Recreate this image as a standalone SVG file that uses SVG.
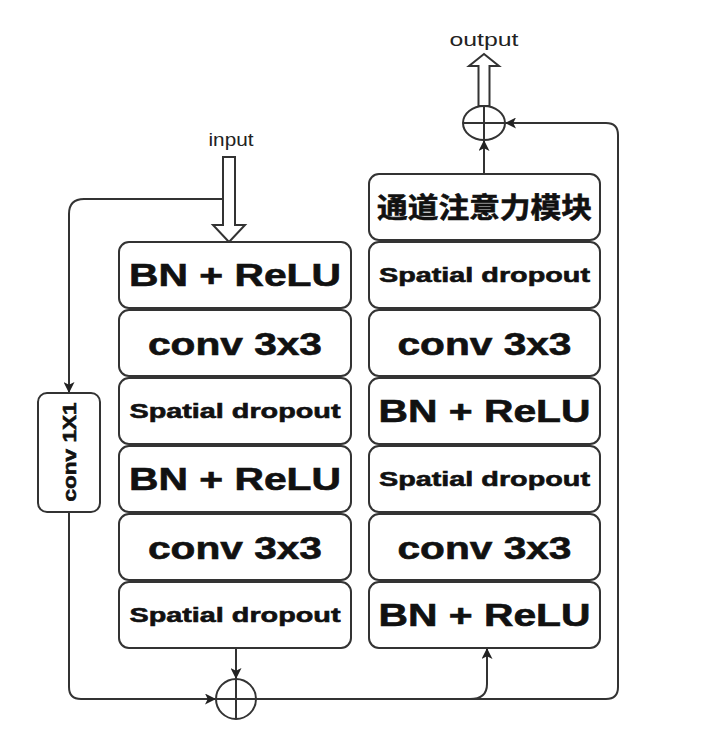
<svg xmlns="http://www.w3.org/2000/svg" width="714" height="739" viewBox="0 0 714 739">
<defs>
<marker id="ah" viewBox="0 0 10 10" refX="10" refY="5" markerWidth="11" markerHeight="11" markerUnits="userSpaceOnUse" orient="auto">
<path d="M0,0 L10,5 L0,10 L2.5,5 Z" fill="#222"/>
</marker>
</defs>
<style>
.box{fill:#fff;stroke:#333;stroke-width:2}
.ln{fill:none;stroke:#333;stroke-width:2}
.t{font-family:"Liberation Sans",Arial,sans-serif;font-weight:bold;fill:#111;stroke:#111;stroke-width:0.6;text-anchor:middle}
.big{font-size:31px}
.sd{font-size:21px}
.cjk{font-family:"Liberation Sans","Noto Sans CJK SC",sans-serif;font-size:28px}
.lab{font-family:"Liberation Sans",Arial,sans-serif;font-size:19px;fill:#222;text-anchor:middle}
</style>
<rect width="714" height="739" fill="#fff"/>

<g id="connectors">
<path class="ln" d="M223 199 H84 Q69 199 69 214 V393" marker-end="url(#ah)"/>
<path class="ln" d="M69 512 V687 Q69 699 81 699 H216" marker-end="url(#ah)"/>
<path class="ln" d="M236 648 V679" marker-end="url(#ah)"/>
<path class="ln" d="M256 699 H606 Q618 699 618 687 V135 Q618 123 606 123 H505" marker-end="url(#ah)"/>
<path class="ln" d="M470 699 Q487 699 487 684 V648" marker-end="url(#ah)"/>
<path class="ln" d="M484 174 V140" marker-end="url(#ah)"/>
</g>

<g id="input">
<text class="lab" x="231" y="146" textLength="45" lengthAdjust="spacingAndGlyphs">input</text>
<polygon class="box" points="223,157 235,157 235,225 245,225 229,242 213,225 223,225"/>
</g>

<g id="output">
<text class="lab" x="484" y="46" textLength="69" lengthAdjust="spacingAndGlyphs">output</text>
<polygon class="box" points="478.5,106 478.5,66 469,66 484,54 499,66 489.5,66 489.5,106"/>
</g>

<g id="sum-top">
<ellipse class="box" cx="484" cy="123" rx="21" ry="17"/>
<path class="ln" d="M463 123 H505 M484 106 V140"/>
</g>

<g id="sum-bottom">
<circle class="box" cx="236" cy="699" r="20"/>
<path class="ln" d="M216 699 H256 M236 679 V719"/>
</g>

<g id="conv1x1">
<rect class="box" x="38" y="393" width="62" height="119" rx="9"/>
<text class="t" font-size="19" transform="translate(76,452) rotate(-90)" textLength="99" lengthAdjust="spacingAndGlyphs">conv 1X1</text>
</g>

<g id="left-1"><rect class="box" x="119" y="242" width="232" height="66" rx="10"/><text class="t big" x="235" y="286" textLength="212" lengthAdjust="spacingAndGlyphs">BN + ReLU</text></g>
<g id="left-2"><rect class="box" x="119" y="310" width="232" height="66" rx="10"/><text class="t big" x="235" y="355" textLength="174" lengthAdjust="spacingAndGlyphs">conv 3x3</text></g>
<g id="left-3"><rect class="box" x="119" y="378" width="232" height="66" rx="10"/><text class="t sd" x="235" y="418" textLength="211" lengthAdjust="spacingAndGlyphs">Spatial dropout</text></g>
<g id="left-4"><rect class="box" x="119" y="446" width="232" height="66" rx="10"/><text class="t big" x="235" y="490" textLength="212" lengthAdjust="spacingAndGlyphs">BN + ReLU</text></g>
<g id="left-5"><rect class="box" x="119" y="514" width="232" height="66" rx="10"/><text class="t big" x="235" y="559" textLength="174" lengthAdjust="spacingAndGlyphs">conv 3x3</text></g>
<g id="left-6"><rect class="box" x="119" y="582" width="232" height="66" rx="10"/><text class="t sd" x="235" y="622" textLength="211" lengthAdjust="spacingAndGlyphs">Spatial dropout</text></g>

<g id="right-1"><rect class="box" x="369" y="174" width="231" height="66" rx="10"/><text class="t cjk" x="484.5" y="218" textLength="215" lengthAdjust="spacingAndGlyphs">通道注意力模块</text></g>
<g id="right-2"><rect class="box" x="369" y="242" width="231" height="66" rx="10"/><text class="t sd" x="484.5" y="282" textLength="211" lengthAdjust="spacingAndGlyphs">Spatial dropout</text></g>
<g id="right-3"><rect class="box" x="369" y="310" width="231" height="66" rx="10"/><text class="t big" x="484.5" y="355" textLength="174" lengthAdjust="spacingAndGlyphs">conv 3x3</text></g>
<g id="right-4"><rect class="box" x="369" y="378" width="231" height="66" rx="10"/><text class="t big" x="484.5" y="422" textLength="212" lengthAdjust="spacingAndGlyphs">BN + ReLU</text></g>
<g id="right-5"><rect class="box" x="369" y="446" width="231" height="66" rx="10"/><text class="t sd" x="484.5" y="486" textLength="211" lengthAdjust="spacingAndGlyphs">Spatial dropout</text></g>
<g id="right-6"><rect class="box" x="369" y="514" width="231" height="66" rx="10"/><text class="t big" x="484.5" y="559" textLength="174" lengthAdjust="spacingAndGlyphs">conv 3x3</text></g>
<g id="right-7"><rect class="box" x="369" y="582" width="231" height="66" rx="10"/><text class="t big" x="484.5" y="626" textLength="212" lengthAdjust="spacingAndGlyphs">BN + ReLU</text></g>
</svg>
